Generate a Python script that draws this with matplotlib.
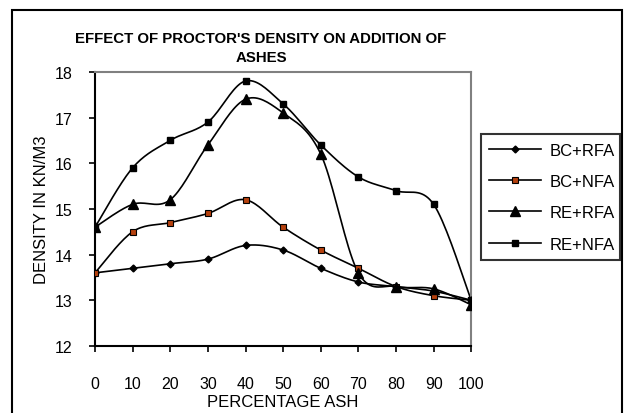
import numpy as np
import matplotlib
matplotlib.use("Agg")
import matplotlib.pyplot as plt
from matplotlib.patches import Rectangle

plt.rcParams['font.family'] = ['Liberation Sans', 'DejaVu Sans']

ash = [0, 10, 20, 30, 40, 50, 60, 70, 80, 90, 100]
bc_rfa = [13.6, 13.7, 13.8, 13.9, 14.2, 14.1, 13.7, 13.4, 13.3, 13.2, 13.0]
bc_nfa = [13.6, 14.5, 14.7, 14.9, 15.2, 14.6, 14.1, 13.7, 13.3, 13.1, 13.0]
re_rfa = [14.6, 15.1, 15.2, 16.4, 17.4, 17.1, 16.2, 13.6, 13.3, 13.25, 12.9]
re_nfa = [14.6, 15.9, 16.5, 16.9, 17.8, 17.3, 16.4, 15.7, 15.4, 15.1, 13.0]
labels = ['BC+RFA', 'BC+NFA', 'RE+RFA', 'RE+NFA']


def smooth(x, y, n=20):
    # excel-like smoothed line (catmull-rom bezier)
    x = np.asarray(x, float)
    y = np.asarray(y, float)
    px, py = [x[0]], [y[0]]
    for i in range(len(x) - 1):
        i0 = max(i - 1, 0)
        i3 = min(i + 2, len(x) - 1)
        c1x = x[i] + (x[i + 1] - x[i0]) / 6
        c1y = y[i] + (y[i + 1] - y[i0]) / 6
        c2x = x[i + 1] - (x[i3] - x[i]) / 6
        c2y = y[i + 1] - (y[i3] - y[i]) / 6
        t = np.linspace(0, 1, n)[1:]
        bx = (1-t)**3*x[i] + 3*(1-t)**2*t*c1x + 3*(1-t)*t**2*c2x + t**3*x[i+1]
        by = (1-t)**3*y[i] + 3*(1-t)**2*t*c1y + 3*(1-t)*t**2*c2y + t**3*y[i+1]
        px.extend(bx)
        py.extend(by)
    return px, py


fig = plt.figure(figsize=(6.25, 4.14), dpi=100)
ax = fig.add_axes([0.152, 0.162, 0.602, 0.662])

styles = [
    dict(marker='D', ms=3.5, mfc='black', mec='black'),
    dict(marker='s', ms=5, mfc='#B5410E', mec='black', mew=0.8),
    dict(marker='^', ms=7.5, mfc='black', mec='black'),
    dict(marker='s', ms=4.5, mfc='black', mec='black'),
]
for ys, lab, st in zip([bc_rfa, bc_nfa, re_rfa, re_nfa], labels, styles):
    sx, sy = smooth(ash, ys)
    ax.plot(sx, sy, color='black', lw=1.2, zorder=2)
    ax.plot(ash, ys, ls='none', zorder=3, **st)
    ax.plot([], [], color='black', lw=1.2, label=lab, **st)

ax.set_xlim(0, 100)
ax.set_ylim(12, 18)
ax.set_xticks(ash)
ax.set_yticks(range(12, 19))
ax.tick_params(direction='out', length=4, width=1.2, labelsize=11.5)
ax.tick_params(axis='x', pad=18)
ax.tick_params(axis='y', pad=12)
for s in ['left', 'bottom']:
    ax.spines[s].set_linewidth(1.5)
    ax.spines[s].set_color('black')
for s in ['top', 'right']:
    ax.spines[s].set_linewidth(1.5)
    ax.spines[s].set_color('#808080')

ax.set_xlabel('PERCENTAGE ASH', fontsize=12, labelpad=2)
ax.set_ylabel('DENSITY IN KN/M3', fontsize=12, labelpad=4)

fig.text(261 / 625, 1 - 43 / 414, "EFFECT OF PROCTOR'S DENSITY ON ADDITION OF",
         ha='center', va='baseline', fontsize=10.8, fontweight='bold')
fig.text(261 / 625, 1 - 61.5 / 414, "ASHES",
         ha='center', va='baseline', fontsize=10.8, fontweight='bold')

leg = fig.legend(loc='lower left', bbox_to_anchor=(0.7696, 0.3696, 0.2224, 0.3174),
                 mode='expand', fontsize=12, frameon=True, fancybox=False,
                 edgecolor='black', labelspacing=0.98, handlelength=3.1,
                 handletextpad=0.5, borderpad=0.5, borderaxespad=0)
leg.get_frame().set_linewidth(1.5)

fig.patches.append(Rectangle((12 / 625, -0.05), 610 / 625, 1.05 - 11 / 414,
                             transform=fig.transFigure, fill=False,
                             edgecolor='black', lw=1.5))

fig.savefig('out.png', dpi=100)
